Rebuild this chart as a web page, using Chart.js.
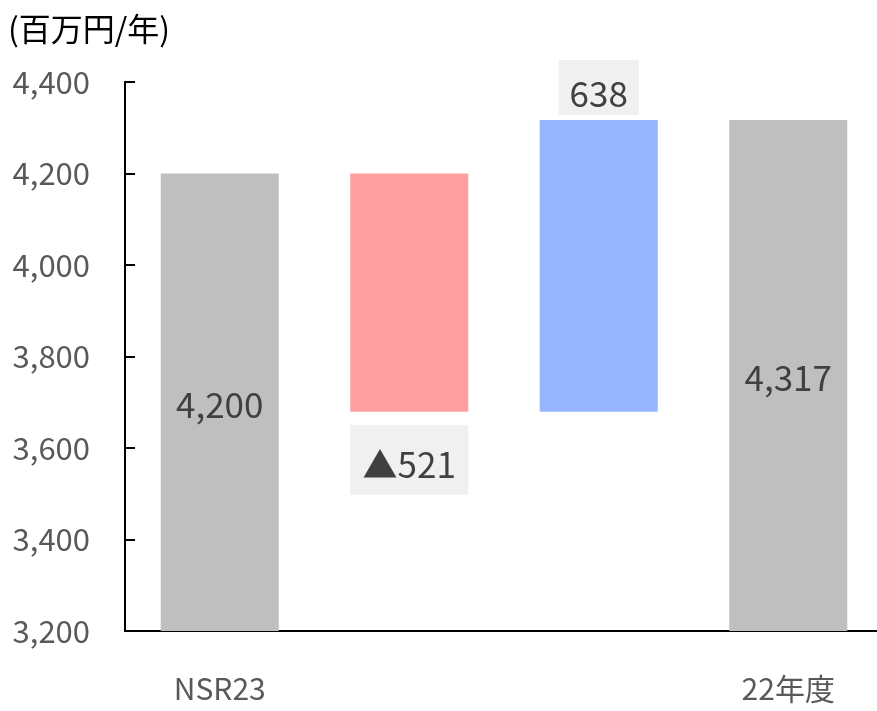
<!DOCTYPE html>
<html>
<head>
<meta charset="utf-8">
<script src="https://cdn.jsdelivr.net/npm/chart.js@4"></script>
<style>
  body { margin: 0; background: #fff; overflow: hidden; }
  #wrap { position: relative; width: 883px; height: 711px; }
</style>
</head>
<body>
<div id="wrap"><canvas id="waterfall"></canvas></div>
<script>
var categories = ['NSR23', '', '', '22年度'];
var startValue = 4200;
var decrease = 521;
var increase = 638;
var endValue = 4317;
var valueLabels = ['4,200', '▲521', '638', '4,317'];
var barColors = ['#bfbfbf', '#ff9f9f', '#97b5ff', '#bfbfbf'];
var yMin = 3200, yMax = 4400, yStep = 200;

var bottom = startValue - decrease;
var floating = [
  [yMin, startValue],
  [bottom, startValue],
  [bottom, bottom + increase],
  [yMin, endValue]
];

var FONT = "'Noto Sans CJK JP', 'Noto Sans', sans-serif";

// 目盛り線を内側に描く + 値ラベル
var labelPlugin = {
  id: 'labelPlugin',
  afterDraw: function(chart) {
    var ctx = chart.ctx;
    var y = chart.scales.y;
    var x = y.right;
    ctx.save();
    ctx.strokeStyle = '#000';
    ctx.lineWidth = 2;
    for (var v = yMin + yStep; v <= yMax; v += yStep) {
      var py = Math.round(y.getPixelForValue(v));
      ctx.beginPath();
      ctx.moveTo(x, py);
      ctx.lineTo(x + 10, py);
      ctx.stroke();
    }

    var meta = chart.getDatasetMeta(0);
    ctx.font = '35px ' + FONT;
    ctx.textAlign = 'center';
    ctx.textBaseline = 'middle';
    meta.data.forEach(function(bar, i) {
      var top = Math.min(bar.y, bar.base);
      var bot = Math.max(bar.y, bar.base);
      var cx = bar.x, cy;
      if (i === 0 || i === 3) {
        cy = (top + bot) / 2;
      } else if (i === 1) {
        cy = bot + 51;
        ctx.fillStyle = '#f0f0f0';
        ctx.fillRect(cx - bar.width / 2, bot + 13, bar.width, 70);
      } else {
        cy = top - 28;
        ctx.fillStyle = '#f0f0f0';
        ctx.fillRect(cx - 40, top - 60, 80, 55);
      }
      ctx.fillStyle = '#404040';
      ctx.fillText(valueLabels[i], cx, cy + 2);
    });

    ctx.fillStyle = '#000';
    ctx.textAlign = 'left';
    ctx.font = '32px ' + FONT;
    ctx.fillText('(百万円/年)', 8, 29);
    ctx.restore();
  }
};

new Chart(document.getElementById('waterfall'), {
  type: 'bar',
  data: {
    labels: categories,
    datasets: [{
      data: floating,
      backgroundColor: barColors,
      borderWidth: 0,
      categoryPercentage: 1,
      barPercentage: 0.623
    }]
  },
  options: {
    responsive: true,
    maintainAspectRatio: false,
    animation: false,
    layout: { padding: { top: 82, right: 0, bottom: 0, left: 0 } },
    plugins: {
      legend: { display: false },
      tooltip: { enabled: false }
    },
    scales: {
      x: {
        afterFit: function(scale) { scale.height = 80; },
        grid: { display: false, drawTicks: false },
        border: { display: true, color: '#000', width: 2 },
        ticks: { color: '#595959', font: { size: 30, family: FONT }, padding: 40 }
      },
      y: {
        min: yMin,
        max: yMax,
        afterFit: function(scale) { scale.width = 125; },
        grid: { display: false, drawTicks: false },
        border: { display: true, color: '#000', width: 2 },
        ticks: {
          stepSize: yStep,
          color: '#595959',
          padding: 35,
          font: { size: 31, family: FONT },
          callback: function(v) { return v.toLocaleString('en-US'); }
        }
      }
    }
  },
  plugins: [labelPlugin]
});
</script>
</body>
</html>
